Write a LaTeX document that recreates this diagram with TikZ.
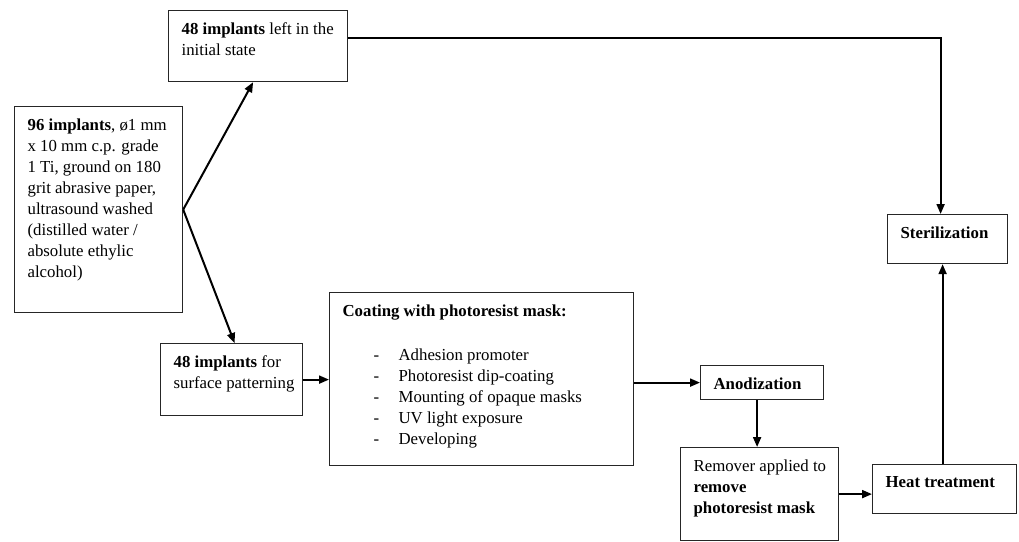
\documentclass[tikz,border=0pt]{standalone}
\usepackage{fontspec}
\setmainfont{Liberation Serif}
\usepackage{tikz}
\usetikzlibrary{arrows.meta, positioning}

% box text: fixed size, set from the top left
\newcommand{\boxbody}[3]{\parbox[c][#2][t]{#1}{\raggedright\leftskip=13pt #3}}

\begin{document}
\begin{tikzpicture}[
  x=1pt, y=-1pt,
  stage/.style={draw=black!85, line width=1.2pt, anchor=north west, inner xsep=0pt, inner ysep=12pt,
    font=\fontsize{16.8}{21}\selectfont},
  arr/.style={line width=2pt, -{Triangle[length=10pt, width=8pt]}},
]
  \useasboundingbox (0,0) rectangle (1019,541);

  % Starting batch and split
  \node[stage] (start) at (14,106) {\boxbody{168pt}{182pt}{\textbf{96 implants}, ø1 mm\\
    x 10 mm c.p. grade\\ 1 Ti, ground on 180\\ grit abrasive paper,\\ ultrasound washed\\
    (distilled water /\\ absolute ethylic\\ alcohol)}};
  \node[stage] (left) at (168,10) {\boxbody{179pt}{47pt}{\textbf{48 implants} left in the\\ initial state}};
  \node[stage] (surface) at (160,343) {\boxbody{142pt}{48pt}{\textbf{48 implants} for\\ surface patterning}};

  % Patterning steps
  \node[stage] (coating) at (329,292) {\boxbody{304pt}{149pt}{\textbf{Coating with photoresist mask:}\\[23pt]
    \hspace*{31pt}\makebox[25pt][l]{-}Adhesion promoter\\
    \hspace*{31pt}\makebox[25pt][l]{-}Photoresist dip-coating\\
    \hspace*{31pt}\makebox[25pt][l]{-}Mounting of opaque masks\\
    \hspace*{31pt}\makebox[25pt][l]{-}UV light exposure\\
    \hspace*{31pt}\makebox[25pt][l]{-}Developing}};
  \node[stage] (anod) at (700,365) {\boxbody{123pt}{10pt}{\textbf{Anodization}}};
  \node[stage] (remover) at (680,447) {\boxbody{158pt}{69pt}{Remover applied to\\ \textbf{remove}\\ \textbf{photoresist mask}}};
  \node[stage] (heat) at (872,464) {\boxbody{144pt}{25pt}{\textbf{Heat treatment}}};
  \node[stage] (steril) at (887,214) {\boxbody{120pt}{25pt}{\textbf{Sterilization}}};

  % Connections
  \draw[arr] (start.east) -- ([xshift=-5pt]left.south);
  \draw[arr] (start.east) -- ([xshift=3pt]surface.north);
  \draw[arr] (surface.east) -- (coating.west |- surface.east);
  \draw[arr] (coating.east |- anod.west) -- (anod.west);
  \draw[arr] ([xshift=-5pt]anod.south) -- ([xshift=-5pt]anod.south |- remover.north);
  \draw[arr] (remover.east) -- (remover.east -| heat.west);
  \draw[arr] ([xshift=-2pt]heat.north) -- ([xshift=-2pt]heat.north |- steril.south);
  \draw[arr] ([yshift=8.5pt]left.east) -| ([xshift=-7pt]steril.north);

\end{tikzpicture}
\end{document}
